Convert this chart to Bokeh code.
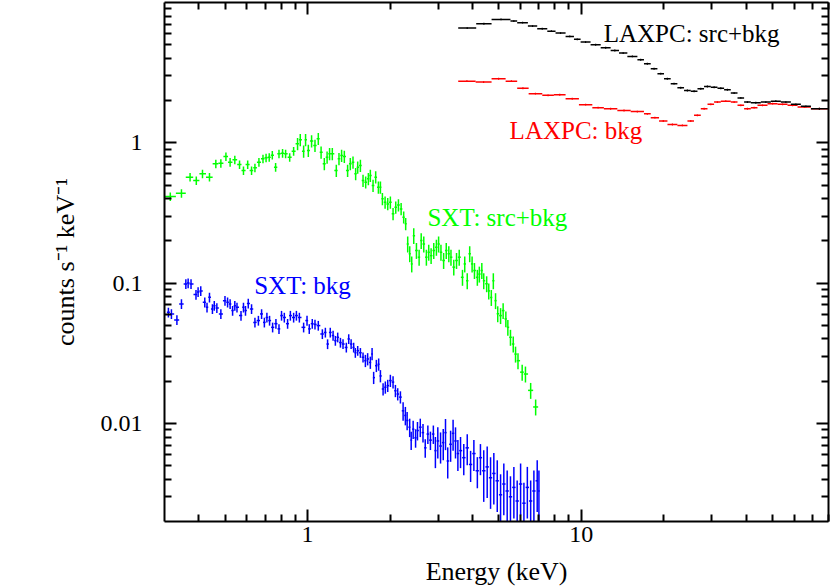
import numpy as np
from bokeh.plotting import figure
from bokeh.models import Range1d, FixedTicker, LogAxis, CustomJSTickFormatter, Label
from bokeh.embed import file_html
from bokeh.resources import INLINE

# ---------------- data ----------------
# SXT source+background (green), energy in keV, rate in counts/s/keV
sxt_src_e = [0.315, 0.346, 0.372, 0.392, 0.413, 0.438, 0.462, 0.482, 0.503, 0.521,
             0.542, 0.564, 0.583, 0.604, 0.624, 0.642, 0.664, 0.687, 0.705, 0.724,
             0.743, 0.764, 0.786, 0.810, 0.831, 0.860, 0.889, 0.919, 0.940, 0.967,
             0.983, 1.006, 1.034, 1.064, 1.094, 1.120, 1.151, 1.178, 1.203, 1.231,
             1.273, 1.302, 1.331, 1.362, 1.400, 1.432, 1.465, 1.498, 1.524, 1.559,
             1.594, 1.630, 1.667, 1.695, 1.734, 1.773, 1.814, 1.845, 1.876, 1.919,
             1.962, 2.006, 2.052, 2.099, 2.147, 2.196, 2.244, 2.282, 2.321, 2.361,
             2.401, 2.442, 2.498, 2.555, 2.600, 2.657, 2.716, 2.770, 2.826, 2.890,
             2.955, 3.010, 3.070, 3.140, 3.210, 3.280, 3.340, 3.420, 3.500, 3.580,
             3.680, 3.750, 3.830, 3.910, 3.990, 4.070, 4.170, 4.240, 4.330, 4.400,
             4.510, 4.590, 4.690, 4.770, 4.860, 4.950, 5.070, 5.180, 5.300, 5.390,
             5.510, 5.640, 5.750, 5.870, 6.080, 6.250, 6.530, 6.810]
sxt_src_rate = [0.414, 0.437, 0.569, 0.538, 0.601, 0.569, 0.708, 0.715, 0.798, 0.727,
                0.756, 0.700, 0.634, 0.700, 0.634, 0.663, 0.727, 0.769, 0.782, 0.789,
                0.816, 0.670, 0.835, 0.843, 0.835, 0.789, 0.871, 0.984, 1.05, 0.871,
                1.05, 0.881, 1.03, 0.957, 1.07, 0.857, 0.708, 0.789, 0.835, 0.835,
                0.634, 0.769, 0.812, 0.798, 0.634, 0.708, 0.727, 0.601, 0.670, 0.689,
                0.538, 0.524, 0.554, 0.585, 0.496, 0.569, 0.482, 0.482, 0.399, 0.377,
                0.367, 0.377, 0.312, 0.347, 0.360, 0.338, 0.295, 0.265, 0.190, 0.162,
                0.137, 0.218, 0.171, 0.153, 0.201, 0.190, 0.153, 0.166, 0.157, 0.171,
                0.180, 0.190, 0.166, 0.145, 0.171, 0.162, 0.153, 0.130, 0.145, 0.153,
                0.110, 0.137, 0.104, 0.162, 0.137, 0.123, 0.110, 0.116, 0.123, 0.104,
                0.099, 0.088, 0.079, 0.104, 0.075, 0.0605, 0.0587, 0.0637, 0.0556, 0.0484,
                0.0411, 0.0368, 0.0312, 0.0280, 0.0232, 0.0225, 0.0172, 0.0131]
# relative 1-sigma errors by energy band (band start keV, fraction)
sxt_src_err_bands = [(0.0, 0.07), (0.9, 0.10), (2.3, 0.13)]

# SXT background (blue)
sxt_bkg_e = [0.310, 0.318, 0.333, 0.346, 0.359, 0.366, 0.375, 0.391, 0.398, 0.407,
             0.421, 0.429, 0.438, 0.449, 0.456, 0.466, 0.482, 0.499, 0.510, 0.521,
             0.532, 0.542, 0.552, 0.571, 0.583, 0.593, 0.607, 0.624, 0.642, 0.661,
             0.679, 0.695, 0.710, 0.726, 0.745, 0.766, 0.786, 0.803, 0.822, 0.845,
             0.865, 0.889, 0.910, 0.933, 0.967, 0.995, 1.014, 1.040, 1.064, 1.094,
             1.132, 1.161, 1.183, 1.210, 1.239, 1.263, 1.288, 1.318, 1.347, 1.385,
             1.413, 1.442, 1.473, 1.494, 1.524, 1.559, 1.594, 1.626, 1.657, 1.695,
             1.720, 1.743, 1.783, 1.818, 1.845, 1.887, 1.923, 1.962, 2.006, 2.052,
             2.093, 2.134, 2.183, 2.233, 2.276, 2.310, 2.360, 2.390, 2.430, 2.480,
             2.520, 2.580, 2.640, 2.690, 2.750, 2.810, 2.880, 2.930, 2.990, 3.060,
             3.130, 3.190, 3.250, 3.330, 3.400, 3.470, 3.540, 3.620, 3.720, 3.830,
             3.940, 4.050, 4.170, 4.280, 4.400, 4.530, 4.660, 4.790, 4.930, 5.070,
             5.210, 5.360, 5.510, 5.670, 5.830, 6.000, 6.170, 6.350, 6.530, 6.710,
             6.900, 7.000]
sxt_bkg_rate = [0.0619, 0.0603, 0.0547, 0.0711, 0.0987, 0.100, 0.0987, 0.0828, 0.0866, 0.088,
                0.0730, 0.0672, 0.0792, 0.0654, 0.0690, 0.0665, 0.0603, 0.075, 0.073, 0.0711,
                0.0637, 0.069, 0.0672, 0.0587, 0.0672, 0.0637, 0.0717, 0.0654, 0.0525, 0.0541,
                0.0603, 0.0525, 0.0569, 0.0541, 0.0484, 0.0514, 0.0472, 0.0587, 0.0569, 0.0514,
                0.0587, 0.0569, 0.0587, 0.0569, 0.0484, 0.0541, 0.0472, 0.0514, 0.0508, 0.0498,
                0.0434, 0.0445, 0.0368, 0.0445, 0.0423, 0.0389, 0.0411, 0.0377, 0.0368, 0.0348,
                0.0400, 0.0368, 0.0348, 0.0319, 0.0330, 0.0319, 0.0296, 0.0280, 0.0288, 0.0272,
                0.0313, 0.0212, 0.0258, 0.0264, 0.0218, 0.0176, 0.0181, 0.0186, 0.0202, 0.0197,
                0.0171, 0.0162, 0.0154, 0.0123, 0.0114, 0.0105, 0.0094, 0.0076, 0.0091, 0.0079,
                0.0089, 0.0094, 0.0086, 0.0067, 0.0084, 0.0076, 0.0084, 0.0064, 0.0075, 0.0069,
                0.0073, 0.0086, 0.0054, 0.0071, 0.0085, 0.0075, 0.0061, 0.0064, 0.0057, 0.0067,
                0.0051, 0.0061, 0.0046, 0.0057, 0.0046, 0.0049, 0.0041, 0.0044, 0.0039, 0.0031,
                0.0037, 0.0033, 0.0030, 0.0035, 0.0028, 0.0037, 0.0027, 0.0035, 0.0028, 0.0033,
                0.0039, 0.0033]
sxt_bkg_err_bands = [(0.0, 0.08), (1.6, 0.10), (2.2, 0.15), (2.9, 0.25), (4.4, 0.40)]

# LAXPC source+background (black): bin edges (keV) and rates
lax_src_edges = [3.55, 4.13, 4.70, 5.51, 5.83, 6.38, 6.90, 7.51, 8.05, 8.76, 9.40, 9.94,
                 10.81, 11.77, 12.80, 13.73, 14.73, 16.03, 16.94, 17.93, 18.97, 20.05,
                 21.21, 22.44, 23.73, 25.11, 26.57, 28.08, 29.72, 31.44, 33.24, 35.16,
                 37.21, 39.33, 41.61, 45.27, 49.25, 53.58, 58.29, 63.41, 69.01, 79.6]
lax_src_rate = [6.57, 7.06, 7.58, 7.37, 7.18, 6.79, 6.50, 6.25, 6.05, 5.73, 5.46, 5.22,
                5.00, 4.76, 4.55, 4.36, 4.13, 3.91, 3.66, 3.37, 3.11, 2.86, 2.64, 2.47,
                2.36, 2.33, 2.43, 2.52, 2.49, 2.45, 2.39, 2.26, 2.09, 1.95, 1.93, 1.95,
                1.98, 1.95, 1.88, 1.82, 1.75]

# LAXPC background (red)
lax_bkg_edges = [3.55, 4.11, 4.70, 5.29, 5.83, 6.42, 7.20, 7.94, 8.76, 9.80, 10.97, 12.09,
                 13.54, 15.15, 16.94, 17.93, 19.23, 20.64, 22.44, 24.42, 25.81, 27.32,
                 28.91, 30.55, 32.33, 35.16, 37.21, 39.33, 41.61, 44.02, 47.89, 52.12,
                 56.69, 61.67, 69.01, 79.6]
lax_bkg_rate = [2.75, 2.71, 2.86, 2.75, 2.45, 2.24, 2.18, 2.20, 2.06, 1.87, 1.78, 1.75,
                1.70, 1.67, 1.61, 1.51, 1.43, 1.35, 1.33, 1.43, 1.57, 1.75, 1.88, 1.95,
                1.98, 1.95, 1.85, 1.75, 1.78, 1.85, 1.90, 1.88, 1.85, 1.80, 1.75]
lax_rel_err = 0.015

x_major = [1, 10]
x_minor = [0.4, 0.5, 0.6, 0.7, 0.8, 0.9, 2, 3, 4, 5, 6, 7, 8, 9,
           20, 30, 40, 50, 60, 70, 80]
y_major = [0.01, 0.1, 1]
y_minor = [0.003, 0.004, 0.005, 0.006, 0.007, 0.008, 0.009,
           0.02, 0.03, 0.04, 0.05, 0.06, 0.07, 0.08, 0.09,
           0.2, 0.3, 0.4, 0.5, 0.6, 0.7, 0.8, 0.9,
           2, 3, 4, 5, 6, 7, 8, 9]

FONT = "Liberation Serif"

# ---------------- figure ----------------
p = figure(width=830, height=588, x_axis_type="log", y_axis_type="log",
           x_range=Range1d(0.3, 80), y_range=Range1d(0.002, 10),
           output_backend="svg", toolbar_location=None,
           min_border_left=164, min_border_right=2, min_border_top=2,
           min_border_bottom=67)
p.grid.visible = False
p.outline_line_color = None
p.background_fill_color = "white"
p.border_fill_color = "white"


def style_axis(ax, labels=True):
    ax.axis_line_width = 2
    ax.axis_line_color = "black"
    ax.major_tick_line_width = 2
    ax.minor_tick_line_width = 2
    ax.major_tick_line_color = "black"
    ax.minor_tick_line_color = "black"
    ax.major_tick_in = 12
    ax.major_tick_out = 0
    ax.minor_tick_in = 7
    ax.minor_tick_out = 0
    ax.major_label_text_font = FONT
    ax.major_label_text_color = "black"
    ax.axis_label_text_font = FONT
    ax.axis_label_text_font_style = "normal"
    ax.axis_label_text_color = "black"
    ax.axis_label_text_font_size = "26px"
    if labels:
        ax.major_label_text_font_size = "24px"
        ax.formatter = CustomJSTickFormatter(code="return tick.toString();")
    else:
        ax.major_label_text_font_size = "0px"
        ax.major_label_standoff = 0
        ax.formatter = CustomJSTickFormatter(code="return '';")


p.xaxis.ticker = FixedTicker(ticks=x_major, minor_ticks=x_minor)
p.yaxis.ticker = FixedTicker(ticks=y_major, minor_ticks=y_minor)
style_axis(p.xaxis[0])
style_axis(p.yaxis[0])
p.xaxis.axis_label = "Energy (keV)"
p.yaxis.axis_label = "counts s\u207b\u00b9 keV\u207b\u00b9"
p.xaxis.major_label_standoff = 5
p.xaxis.axis_label_standoff = 12
p.yaxis.major_label_standoff = 22
p.yaxis.axis_label_standoff = 18

top = LogAxis(ticker=FixedTicker(ticks=x_major, minor_ticks=x_minor))
style_axis(top, labels=False)
p.add_layout(top, "above")
right = LogAxis(ticker=FixedTicker(ticks=y_major, minor_ticks=y_minor))
style_axis(right, labels=False)
p.add_layout(right, "right")


def band_err(e, bands):
    out = []
    for ei in e:
        f = bands[0][1]
        for start, frac in bands:
            if ei >= start:
                f = frac
        out.append(f)
    return np.array(out)


def draw_points(e, r, bands, color):
    e = np.asarray(e, dtype=float)
    r = np.asarray(r, dtype=float)
    mids = np.sqrt(e[:-1] * e[1:])
    lo = np.concatenate([[e[0] ** 2 / mids[0]], mids])
    hi = np.concatenate([mids, [e[-1] ** 2 / mids[-1]]])
    f = band_err(e, bands)
    p.segment(x0=lo, y0=r, x1=hi, y1=r, line_color=color, line_width=1.5)
    p.segment(x0=e, y0=r * (1 - f), x1=e, y1=r * (1 + f), line_color=color, line_width=1.5)


def draw_bins(edges, r, color):
    edges = np.asarray(edges, dtype=float)
    r = np.asarray(r, dtype=float)
    lo, hi = edges[:-1], edges[1:]
    c = np.sqrt(lo * hi)
    p.segment(x0=lo, y0=r, x1=hi, y1=r, line_color=color, line_width=1.5)
    p.segment(x0=c, y0=r * (1 - lax_rel_err), x1=c, y1=r * (1 + lax_rel_err),
              line_color=color, line_width=1.2)


draw_points(sxt_bkg_e, sxt_bkg_rate, sxt_bkg_err_bands, "#0000ff")
draw_points(sxt_src_e, sxt_src_rate, sxt_src_err_bands, "#00ff00")
draw_bins(lax_bkg_edges, lax_bkg_rate, "#ff0000")
draw_bins(lax_src_edges, lax_src_rate, "black")

labels = [
    (12.07, 6.02, "LAXPC: src+bkg", "black"),
    (5.47, 1.22, "LAXPC: bkg", "#ff0000"),
    (2.74, 0.293, "SXT: src+bkg", "#00ff00"),
    (0.638, 0.096, "SXT: bkg", "#0000ff"),
]
for x, y, t, c in labels:
    p.add_layout(Label(x=x, y=y, text=t, text_color=c, text_font=FONT,
                       text_font_size="25px", text_baseline="middle",
                       text_align="left"))

open("out.html", "w").write(file_html(p, INLINE))
